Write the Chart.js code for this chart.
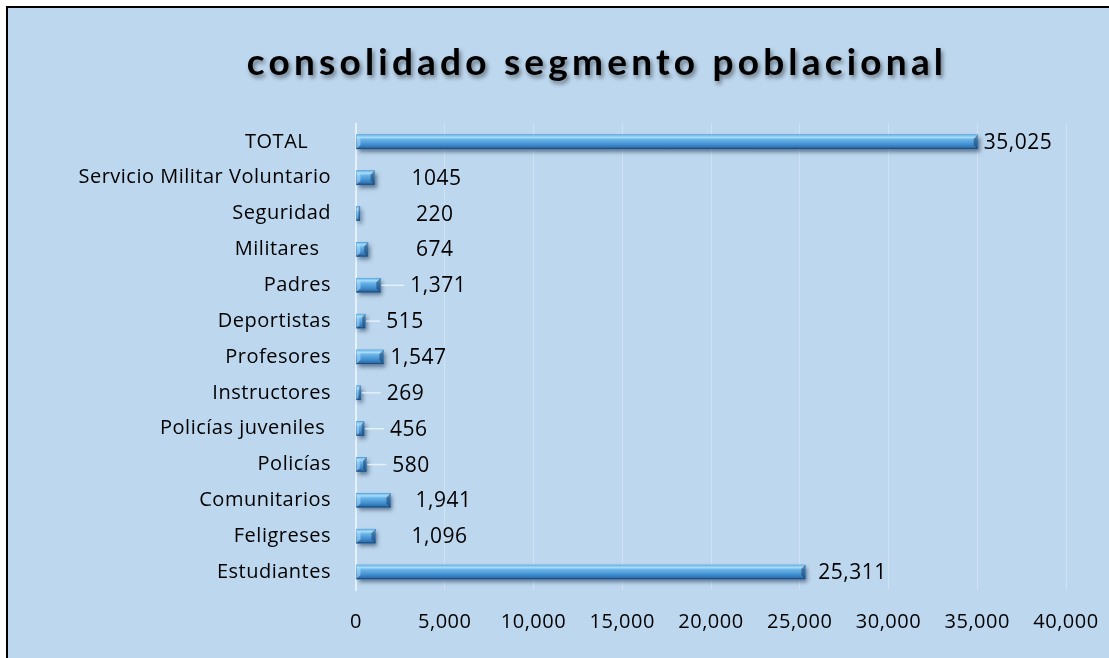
<!DOCTYPE html>
<html>
<head>
<meta charset="utf-8">
<script src="https://cdn.jsdelivr.net/npm/chart.js@4.4.1/dist/chart.umd.min.js"></script>
<style>
  html, body { margin: 0; padding: 0; background: #fff; overflow: hidden; }
  #frame {
    position: absolute; left: 6px; top: 6px;
    width: 1120px; height: 670px;
    border-left: 2px solid #000; border-top: 2px solid #000;
    background: #bdd7ee;
  }
  #wrap { position: absolute; left: 0; top: 0; width: 1101px; height: 650px; }
</style>
</head>
<body>
<div id="frame"><div id="wrap"><canvas id="c"></canvas></div></div>
<script>
// ── datos (de arriba hacia abajo) ─────────────────────────
const categories = [
    'TOTAL    ', 'Servicio Militar Voluntario', 'Seguridad', 'Militares  ',
    'Padres', 'Deportistas', 'Profesores', 'Instructores',
    'Policías juveniles ', 'Policías', 'Comunitarios', 'Feligreses', 'Estudiantes'
];
const values = [35025, 1045, 220, 674, 1371, 515, 1547, 269, 456, 580, 1941, 1096, 25311];
const valueText = ['35,025', '1045', '220', '674', '1,371', '515', '1,547',
                   '269', '456', '580', '1,941', '1,096', '25,311'];
const xMin = 0, xMax = 40000, xStep = 5000;
const title = 'consolidado segmento poblacional';

const FONT = '"Open Sans", Lato, sans-serif';
const TITLE_FONT = 'Lato, "Open Sans", sans-serif';

// ── etiquetas de datos (separación a la derecha de la barra, px) ──
const labelGap = [6, 37, 56, 48, 30, 21, 7, 26, 26, 26, 25, 36, 13];
const leader   = [false, false, false, false, true, true, false, true, true, true, false, false, false];

// texto un poco más ancho (como Calibri en el original)
const spacingPlugin = {
    id: 'spacing',
    beforeDraw(chart) { chart.ctx.letterSpacing = '0.5px'; },
    afterDraw(chart)  { chart.ctx.letterSpacing = '0px'; }
};

const titlePlugin = {
    id: 'titleText',
    beforeDraw(chart) {
        const ctx = chart.ctx;
        ctx.save();
        ctx.font = 'bold 37px ' + TITLE_FONT;
        ctx.letterSpacing = '4.2px';
        ctx.textAlign = 'center';
        ctx.textBaseline = 'alphabetic';
        ctx.fillStyle = '#000';
        ctx.shadowColor = 'rgba(0,0,0,0.45)';
        ctx.shadowBlur = 4;
        ctx.shadowOffsetX = 2;
        ctx.shadowOffsetY = 3;
        ctx.fillText(title, 589, 67);
        ctx.restore();
    }
};

function bar(el) {
    const p = el.getProps(['x', 'y', 'base', 'height'], true);
    const l = Math.min(p.x, p.base), r = Math.max(p.x, p.base);
    return { l, r, t: p.y - p.height / 2, b: p.y + p.height / 2, y: p.y };
}

const bevelPlugin = {
    id: 'bevel',
    beforeDatasetsDraw(chart) {
        const ctx = chart.ctx;
        const meta = chart.getDatasetMeta(0);
        ctx.save();
        meta.data.forEach(el => {
            const b = bar(el);
            ctx.shadowColor = 'rgba(20,40,70,0.55)';
            ctx.shadowBlur = 4;
            ctx.shadowOffsetX = 2;
            ctx.shadowOffsetY = 3;
            ctx.fillStyle = '#2d6496';
            ctx.fillRect(b.l, b.t, b.r - b.l, b.b - b.t);
        });
        ctx.restore();
    },
    afterDatasetsDraw(chart) {
        const ctx = chart.ctx;
        const meta = chart.getDatasetMeta(0);
        ctx.save();
        meta.data.forEach((el, i) => {
            const b = bar(el);
            const w = b.r - b.l, h = b.b - b.t;
            const g = ctx.createLinearGradient(0, b.t, 0, b.b);
            g.addColorStop(0, '#6fb9ea');
            g.addColorStop(0.18, '#a6dcf8');
            g.addColorStop(0.32, '#6ab4e8');
            g.addColorStop(0.7, '#3f8dcf');
            g.addColorStop(1, '#2a6198');
            ctx.fillStyle = g;
            ctx.fillRect(b.l, b.t, w, h);
            // bisel del extremo derecho
            const e = Math.min(4, w / 3);
            ctx.fillStyle = 'rgba(25,60,100,0.55)';
            ctx.beginPath();
            ctx.moveTo(b.r - e, b.t + e);
            ctx.lineTo(b.r, b.t);
            ctx.lineTo(b.r, b.b);
            ctx.lineTo(b.r - e, b.b - e);
            ctx.closePath();
            ctx.fill();
            // bisel izquierdo claro
            ctx.fillStyle = 'rgba(190,230,255,0.5)';
            ctx.beginPath();
            ctx.moveTo(b.l, b.t);
            ctx.lineTo(b.l + e, b.t + e);
            ctx.lineTo(b.l + e, b.b - e);
            ctx.lineTo(b.l, b.b);
            ctx.closePath();
            ctx.fill();
            ctx.strokeStyle = 'rgba(30,70,115,0.8)';
            ctx.lineWidth = 1;
            ctx.beginPath();
            ctx.moveTo(b.l, b.b - 0.5);
            ctx.lineTo(b.r, b.b - 0.5);
            ctx.stroke();

            // etiqueta + línea guía
            const lx = b.r + labelGap[i];
            if (leader[i]) {
                ctx.strokeStyle = 'rgba(235,245,252,0.85)';
                ctx.lineWidth = 1.5;
                ctx.beginPath();
                ctx.moveTo(b.r + 1, b.y);
                ctx.lineTo(lx - 6, b.y);
                ctx.stroke();
            }
            ctx.font = '21px ' + FONT;
            ctx.fillStyle = '#000';
            ctx.textAlign = 'left';
            ctx.textBaseline = 'middle';
            ctx.fillText(valueText[i], lx, b.y + 1);
        });
        ctx.restore();
    }
};

new Chart(document.getElementById('c'), {
    type: 'bar',
    data: {
        labels: categories,
        datasets: [{
            data: values,
            backgroundColor: '#3f8dcf',
            borderWidth: 0,
            barThickness: 14
        }]
    },
    options: {
        indexAxis: 'y',
        responsive: true,
        maintainAspectRatio: false,
        animation: false,
        layout: { padding: { top: 116, right: 0, left: 0, bottom: 0 } },
        plugins: {
            legend: { display: false },
            tooltip: { enabled: false }
        },
        scales: {
            x: {
                min: xMin, max: xMax,
                ticks: {
                    stepSize: xStep,
                    padding: 20,
                    color: '#000',
                    font: { family: FONT, size: 20 },
                    callback: v => v.toLocaleString('en-US')
                },
                grid: { color: 'rgba(255,255,255,0.28)', drawTicks: false },
                border: { display: false },
                afterFit: s => { s.height = 68; s.paddingRight = 43; }
            },
            y: {
                ticks: {
                    padding: 25,
                    color: '#000',
                    font: { family: FONT, size: 20 }
                },
                grid: { display: false, drawTicks: false },
                border: { color: 'rgba(240,248,255,0.75)', width: 2 },
                afterFit: s => { s.width = 348; }
            }
        }
    },
    plugins: [spacingPlugin, titlePlugin, bevelPlugin]
});
</script>
</body>
</html>
